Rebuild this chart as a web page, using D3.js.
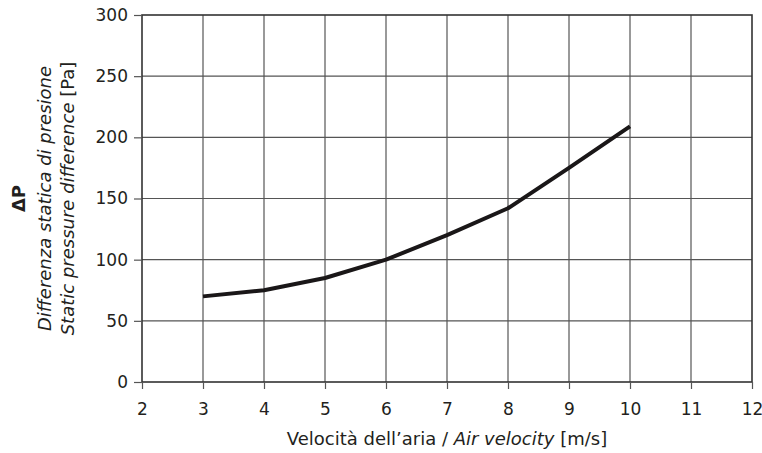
<!DOCTYPE html>
<html>
<head>
<meta charset="utf-8">
<script src="https://cdn.jsdelivr.net/npm/d3@7"></script>
<style>
  body { margin: 0; background: #fff; }
  svg text { font-family: "DejaVu Sans", Arial, sans-serif; fill: #231f20; }
</style>
</head>
<body>
<div id="chart"></div>
<script>
const velocity = [3, 4, 5, 6, 7, 8, 9, 10];
const pressure = [70, 75, 85, 100, 120, 142, 175, 209];
const xTicks = [2, 3, 4, 5, 6, 7, 8, 9, 10, 11, 12];
const yTicks = [0, 50, 100, 150, 200, 250, 300];

const width = 762, height = 453;
const margin = { top: 15, right: 10, bottom: 71, left: 142 };
const fs = "17px";     // tick labels
const ts = "18px";     // axis titles

const svg = d3.select("#chart").append("svg")
  .attr("width", width)
  .attr("height", height);

const x = d3.scaleLinear().domain([2, 12]).range([margin.left, width - margin.right]);
const y = d3.scaleLinear().domain([0, 300]).range([height - margin.bottom, margin.top]);

// grid
svg.append("g")
  .selectAll("line")
  .data(xTicks.slice(1, -1))
  .enter().append("line")
  .attr("x1", d => x(d)).attr("x2", d => x(d))
  .attr("y1", y(0)).attr("y2", y(300))
  .attr("stroke", "#555").attr("stroke-width", 1.2);

svg.append("g")
  .selectAll("line")
  .data(yTicks.slice(1, -1))
  .enter().append("line")
  .attr("x1", x(2)).attr("x2", x(12))
  .attr("y1", d => y(d)).attr("y2", d => y(d))
  .attr("stroke", "#555").attr("stroke-width", 1.2);

// frame
svg.append("rect")
  .attr("x", x(2)).attr("y", y(300))
  .attr("width", x(12) - x(2)).attr("height", y(0) - y(300))
  .attr("fill", "none").attr("stroke", "#333").attr("stroke-width", 1.6);

// axes
const xAxis = svg.append("g")
  .attr("transform", `translate(0,${y(0)})`)
  .call(d3.axisBottom(x).tickValues(xTicks).tickSize(7).tickPadding(14).tickFormat(d3.format("d")));
const yAxis = svg.append("g")
  .attr("transform", `translate(${x(2)},0)`)
  .call(d3.axisLeft(y).tickValues(yTicks).tickSize(8).tickPadding(6).tickFormat(d3.format("d")));

[xAxis, yAxis].forEach(a => {
  a.select(".domain").remove();
  a.selectAll(".tick line").attr("stroke", "#555").attr("stroke-width", 1.2);
  a.selectAll(".tick text").style("font-size", fs).attr("fill", "#231f20");
});

// curve
const line = d3.line()
  .x((d, i) => x(velocity[i]))
  .y(d => y(d));

svg.append("path")
  .datum(pressure)
  .attr("d", line)
  .attr("fill", "none")
  .attr("stroke", "#1a1718")
  .attr("stroke-width", 4)
  .attr("stroke-linejoin", "round");

// x label
const xl = svg.append("text")
  .attr("x", x(7))
  .attr("y", 445)
  .attr("text-anchor", "middle")
  .style("font-size", ts);
xl.append("tspan").text("Velocità dell’aria / ");
xl.append("tspan").style("font-style", "italic").text("Air velocity");
xl.append("tspan").text(" [m/s]");

// y label
const cy = (y(0) + y(300)) / 2;
const yl = svg.append("g").attr("transform", `translate(0,${cy}) rotate(-90)`);
yl.append("text").attr("x", 0).attr("y", 25)
  .attr("text-anchor", "middle")
  .style("font-size", ts).style("font-weight", "bold")
  .text("ΔP");
yl.append("text").attr("x", 0).attr("y", 51)
  .attr("text-anchor", "middle")
  .style("font-size", ts).style("font-style", "italic")
  .text("Differenza statica di presione");
const l3 = yl.append("text").attr("x", 0).attr("y", 74)
  .attr("text-anchor", "middle")
  .style("font-size", ts);
l3.append("tspan").style("font-style", "italic").text("Static pressure difference");
l3.append("tspan").text(" [Pa]");
</script>
</body>
</html>
